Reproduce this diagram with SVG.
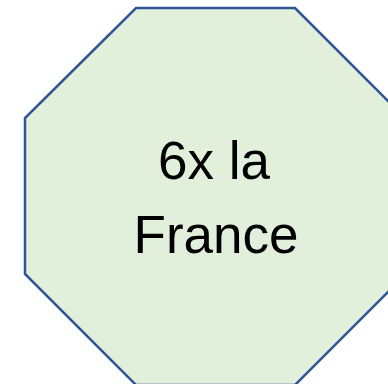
<svg xmlns="http://www.w3.org/2000/svg" width="388" height="384" viewBox="0 0 388 384">
<style>
.shape{fill:#E2EFDA;stroke:#2F5597;stroke-width:2.5}
.lbl{font-family:"Liberation Sans",Arial,sans-serif;font-size:53px;fill:#000;text-anchor:middle}
</style>
<rect width="388" height="384" fill="#fff"/>
<g id="octagon">
<polygon class="shape" points="136,8 295,8 406,119 406,274 295,385 136,385 25,274 25,118"/>
<text class="lbl" x="214" y="179">6x la</text>
<text class="lbl" x="216" y="253">France</text>
</g>
</svg>
